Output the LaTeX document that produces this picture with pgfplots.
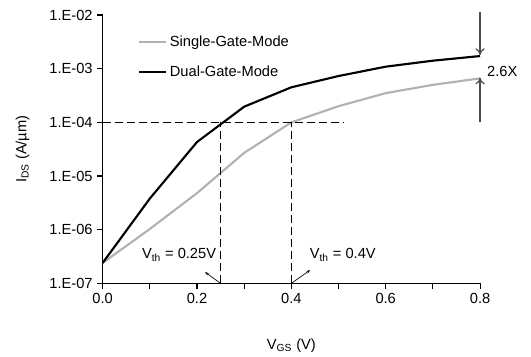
\documentclass[border=0pt]{standalone}
\usepackage{pgfplots}
\pgfplotsset{compat=1.18}
\usepackage{fontspec}
\setmainfont{Liberation Sans}
\usetikzlibrary{arrows.meta}
\begin{document}
\begin{tikzpicture}
\begin{axis}[
  scale only axis,
  width=283pt, height=201.2pt,
  ymode=log,
  xmin=0, xmax=0.8, ymin=1e-7, ymax=1e-2,
  axis x line=bottom, axis y line=left,
  axis line style={-, line width=0.9pt},
  tick align=outside,
  major tick length=4pt, minor tick length=4pt,
  tick style={line width=0.8pt, black},
  xtick={0,0.2,0.4,0.6,0.8},
  xticklabels={0.0,0.2,0.4,0.6,0.8},
  minor xtick={0.1,0.3,0.5,0.7},
  ytick={1e-7,1e-6,1e-5,1e-4,1e-3,1e-2},
  yticklabels={1.E-07,1.E-06,1.E-05,1.E-04,1.E-03,1.E-02},
  yminorticks=false,
  /pgf/number format/assume math mode=true,
  ticklabel style={font=\fontsize{11}{12}\selectfont},
  xlabel={V\textsubscript{GS} (V)},
  ylabel={I\textsubscript{DS} (A/µm)},
  label style={font=\fontsize{11}{12}\selectfont},
  xlabel style={at={(axis description cs:0.5,-0.231)}, anchor=center},
  ylabel style={at={(axis description cs:-0.212,0.5)}, anchor=center},
  clip=false,
  legend style={at={(axis description cs:0.094,0.935)}, anchor=north west, draw=none, fill=none,
    font=\fontsize{11}{12}\selectfont, row sep=9.5pt, inner sep=0pt},
  legend cell align=left,
  legend image code/.code={\draw[#1, line width=1.6pt] (0pt,0pt) -- (20pt,0pt);},
]
\addplot[gray!60, line width=1.6pt] coordinates {
 (0.0,2.4e-7) (0.1,1.03e-6) (0.2,4.8e-6) (0.3,2.7e-5) (0.4,1.0e-4)
 (0.5,2.0e-4) (0.6,3.5e-4) (0.7,5.0e-4) (0.8,6.6e-4)};
\addlegendentry{Single-Gate-Mode}
\addplot[black, line width=1.6pt] coordinates {
 (0.0,2.4e-7) (0.1,3.8e-6) (0.2,4.3e-5) (0.3,1.96e-4) (0.4,4.5e-4)
 (0.5,7.3e-4) (0.6,1.09e-3) (0.7,1.41e-3) (0.8,1.72e-3)};
\addlegendentry{Dual-Gate-Mode}
% dashed guides
\draw[dash pattern=on 6pt off 3pt, line width=0.8pt] (axis cs:0,1e-4) -- (axis cs:0.51,1e-4);
\draw[dash pattern=on 6pt off 3pt, line width=0.8pt] (axis cs:0.25,1e-7) -- (axis cs:0.25,1e-4);
\draw[dash pattern=on 6pt off 3pt, line width=0.8pt] (axis cs:0.4,1e-7) -- (axis cs:0.4,1e-4);
% Vth labels
\node[font=\fontsize{11}{12}\selectfont] at (axis cs:0.162,3.4e-7) {V\textsubscript{th} = 0.25V};
\node[font=\fontsize{11}{12}\selectfont] at (axis cs:0.509,3.4e-7) {V\textsubscript{th} = 0.4V};
\draw[-{Stealth[length=3pt]}, line width=0.5pt] (axis cs:0.25,1e-7) -- (axis cs:0.217,1.62e-7);
\draw[-{Stealth[length=3pt]}, line width=0.5pt] (axis cs:0.4,1e-7) -- (axis cs:0.44,1.77e-7);
% 2.6X arrows
\draw[-{To[length=5pt,width=7pt]}, black!70, line width=0.9pt] (axis cs:0.8,1.14e-2) -- (axis cs:0.8,1.8e-3);
\draw[-{To[length=5pt,width=7pt]}, black!70, line width=0.9pt] (axis cs:0.8,1.01e-4) -- (axis cs:0.8,6.8e-4);
\node[font=\fontsize{11}{12}\selectfont] at (axis cs:0.847,9.0e-4) {2.6X};
% bounding frame
\path (axis description cs:-0.272,-0.271) rectangle (axis description cs:1.135,1.056);
\end{axis}
\end{tikzpicture}
\end{document}
